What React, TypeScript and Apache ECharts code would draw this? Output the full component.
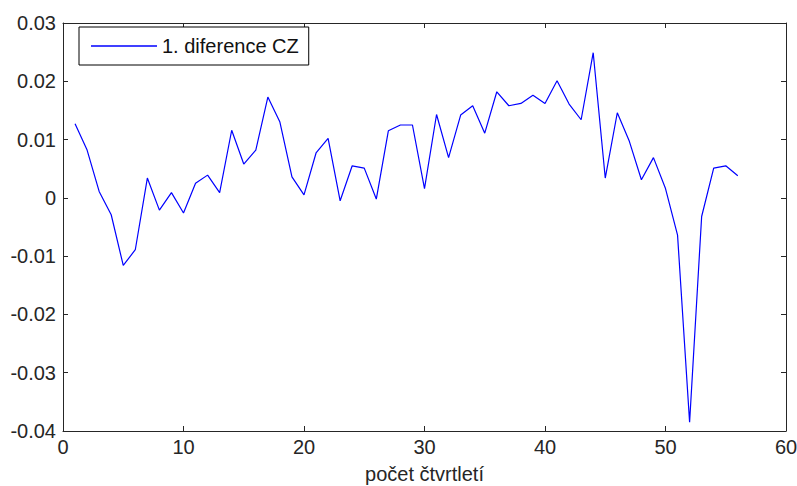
import React, { useEffect, useRef } from "react";
import * as echarts from "echarts";

// First difference of the CZ series, per quarter (1..56)
const seriesName = "1. diference CZ";
const diffCZ: number[] = [
  0.0127, 0.0082, 0.0011, -0.0029, -0.0116, -0.0089, 0.0034, -0.0021, 0.0009, -0.0026,
  0.0025, 0.0039, 0.0009, 0.0116, 0.0058, 0.0082, 0.0173, 0.0130, 0.0036, 0.0005,
  0.0077, 0.0102, -0.0005, 0.0055, 0.0051, -0.0002, 0.0115, 0.0125, 0.0125, 0.0016,
  0.0143, 0.0069, 0.0142, 0.0158, 0.0111, 0.0182, 0.0158, 0.0162, 0.0176, 0.0162,
  0.0201, 0.0161, 0.0134, 0.0249, 0.0034, 0.0146, 0.0097, 0.0031, 0.0069, 0.0016,
  -0.0064, -0.0385, -0.0032, 0.0051, 0.0055, 0.0038,
];

const xTitle = "počet čtvrtletí";
const xRange = { min: 0, max: 60, step: 10 };
const yRange = { min: -0.04, max: 0.03, step: 0.01 };

const FONT = "'Liberation Sans', Arial, Helvetica, sans-serif";
const AXIS_COLOR = "#262626";
const LINE_COLOR = "#0000ff";

export default function App() {
  const ref = useRef<HTMLDivElement>(null);

  useEffect(() => {
    if (!ref.current) return;
    const chart = echarts.init(ref.current, undefined, { renderer: "svg" });

    const axisLine = { show: true, onZero: false, lineStyle: { color: AXIS_COLOR, width: 1 } };
    const tickIn = { show: true, inside: true, length: 5, lineStyle: { color: AXIS_COLOR, width: 1 } };
    const label = { color: "#262626", fontFamily: FONT, fontSize: 20 };

    chart.setOption({
      animation: false,
      backgroundColor: "#ffffff",
      textStyle: { fontFamily: FONT },
      grid: {
        left: 63,
        right: 11,
        top: 23,
        bottom: 55,
        containLabel: false,
        outerBoundsMode: "none",
      },
      legend: {
        show: true,
        data: [{ name: seriesName, icon: "rect" }],
        left: 79,
        top: 27,
        orient: "horizontal",
        padding: [8, 10, 8, 12],
        itemWidth: 66,
        itemHeight: 1.3,
        itemGap: 6,
        itemStyle: { color: LINE_COLOR, borderWidth: 0 },
        lineStyle: { width: 0 },
        borderColor: "#000000",
        borderWidth: 1,
        borderRadius: 0,
        backgroundColor: "#ffffff",
        textStyle: { color: "#111", fontFamily: FONT, fontSize: 20, lineHeight: 22 },
      },
      xAxis: [
        {
          type: "value",
          position: "bottom",
          min: xRange.min,
          max: xRange.max,
          interval: xRange.step,
          axisLine,
          axisTick: tickIn,
          splitLine: { show: false },
          axisLabel: { ...label, margin: 6 },
          name: xTitle,
          nameLocation: "middle",
          nameGap: 33,
          nameTextStyle: { color: "#262626", fontFamily: FONT, fontSize: 20 },
        },
        {
          type: "value",
          position: "top",
          min: xRange.min,
          max: xRange.max,
          interval: xRange.step,
          axisLine,
          axisTick: tickIn,
          splitLine: { show: false },
          axisLabel: { show: false },
        },
      ],
      yAxis: [
        {
          type: "value",
          position: "left",
          min: yRange.min,
          max: yRange.max,
          interval: yRange.step,
          axisLine,
          axisTick: tickIn,
          splitLine: { show: false },
          axisLabel: { ...label, margin: 7 },
        },
        {
          type: "value",
          position: "right",
          min: yRange.min,
          max: yRange.max,
          interval: yRange.step,
          axisLine,
          axisTick: tickIn,
          splitLine: { show: false },
          axisLabel: { show: false },
        },
      ],
      series: [
        {
          name: seriesName,
          type: "line",
          xAxisIndex: 0,
          yAxisIndex: 0,
          data: diffCZ.map((v, i) => [i + 1, v]),
          symbol: "none",
          showSymbol: false,
          lineStyle: { color: LINE_COLOR, width: 1.2 },
          itemStyle: { color: LINE_COLOR },
        },
      ],
    });

    return () => chart.dispose();
  }, []);

  return (
    <div
      ref={ref}
      style={{ position: "absolute", left: 0, top: 0, width: 797, height: 486, background: "#fff" }}
    />
  );
}
